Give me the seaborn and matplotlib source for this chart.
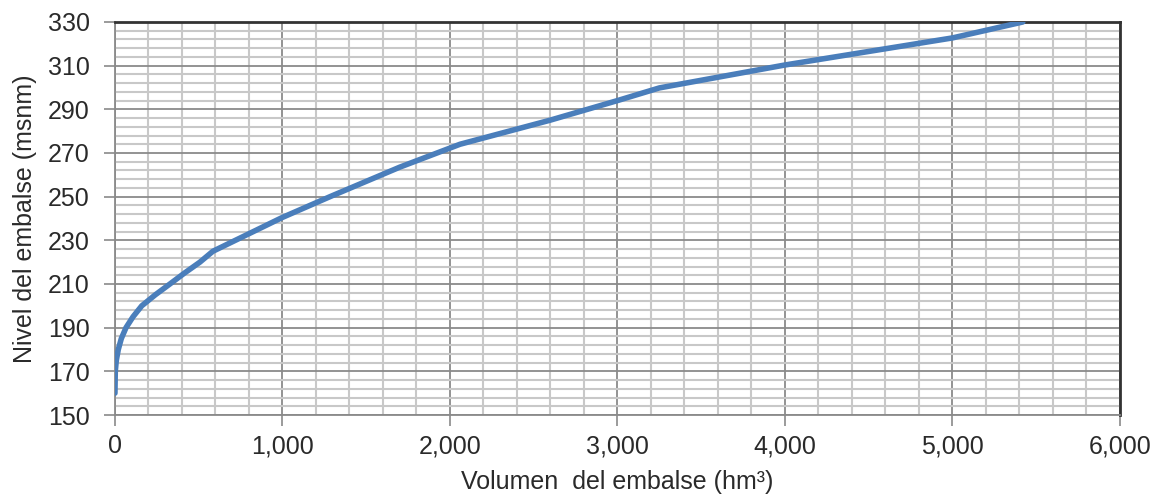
import numpy as np
import pandas as pd
import seaborn as sns
import matplotlib.pyplot as plt
from matplotlib.ticker import MultipleLocator, FixedLocator, FuncFormatter

# curva nivel - volumen del embalse
volumen = [0, 1, 2, 8, 20, 38, 66, 108, 160, 240, 328, 415, 507, 585,
           1000, 1284, 1700, 2060, 2597, 3000, 3250, 4000, 5000, 5420]
nivel = [160, 165, 170, 175, 180, 185, 190, 195, 200, 205, 210, 215, 220, 225,
         240.5, 250, 263.5, 274, 285, 294, 299.8, 310.3, 322.7, 330]

niveles_ticks = list(range(150, 331, 20))

df = pd.DataFrame({'volumen': volumen, 'nivel': nivel})

sns.set_style("white")
plt.rcParams['font.family'] = ['Liberation Sans', 'DejaVu Sans']

fig = plt.figure(figsize=(11.67, 4.95), dpi=100)
ax = fig.add_axes([0.0985, 0.1616, 0.8612, 0.794])

sns.lineplot(x='volumen', y='nivel', data=df, estimator=None, sort=False,
             color='#4a7ebb', linewidth=4, ax=ax, zorder=5,
             solid_capstyle='round', solid_joinstyle='round')

ax.set_xlim(0, 6000)
ax.set_ylim(150, 330)
ax.xaxis.set_major_locator(MultipleLocator(1000))
ax.xaxis.set_minor_locator(MultipleLocator(200))
ax.yaxis.set_major_locator(FixedLocator(niveles_ticks))
ax.yaxis.set_minor_locator(FixedLocator(list(range(150, 331, 4))))
ax.xaxis.set_major_formatter(FuncFormatter(lambda v, p: f"{int(v):,}"))

ax.grid(which='minor', color='#c8c8c8', linewidth=1.5)
ax.grid(which='major', color='#8a8a8a', linewidth=1.3)
ax.set_axisbelow(True)

ax.tick_params(which='major', direction='out', length=8, width=1.2,
               color='#8a8a8a', labelsize=18, bottom=True, left=True,
               labelcolor='#2a2a2a')
ax.tick_params(axis='y', which='major', pad=10)
ax.tick_params(axis='x', which='major', pad=6)
ax.tick_params(which='minor', length=0)

for side in ['left', 'bottom']:
    ax.spines[side].set_color('#8a8a8a')
    ax.spines[side].set_linewidth(1.3)
for side in ['top', 'right']:
    ax.spines[side].set_color('#333333')
    ax.spines[side].set_linewidth(2)

ax.set_xlabel('Volumen  del embalse (hm³)', fontsize=18, color='#2a2a2a', labelpad=8)
ax.set_ylabel('Nivel del embalse (msnm)', fontsize=18, color='#2a2a2a', labelpad=8)

fig.savefig('out.png', dpi=100)
